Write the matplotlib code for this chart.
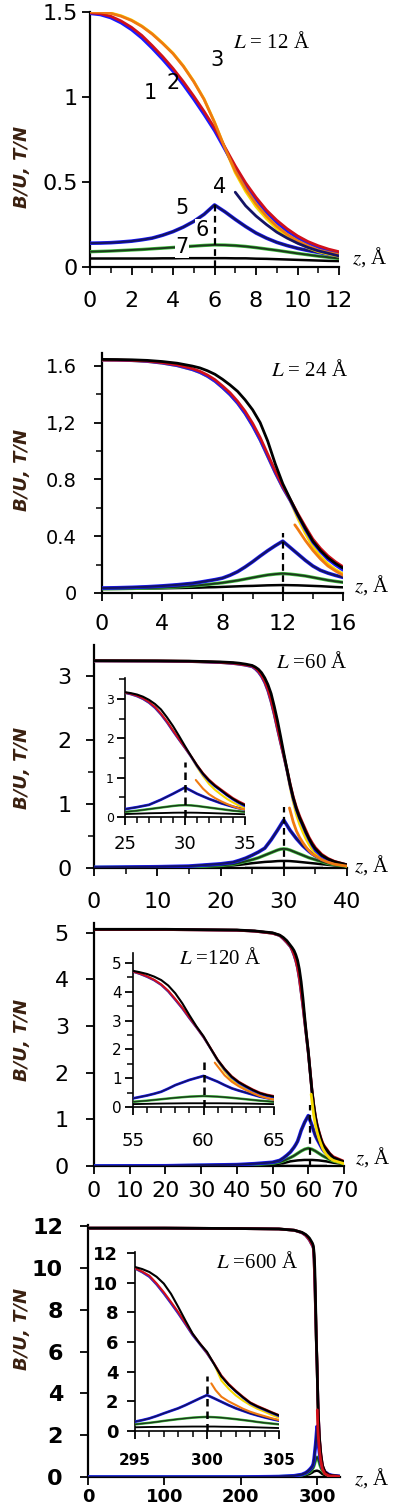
import matplotlib
matplotlib.use('Agg')
import matplotlib.pyplot as plt
import numpy as np
from matplotlib.ticker import MultipleLocator, NullLocator

# ---------------- Panel 1 : L = 12 A ----------------
p1_z  = [0, 0.5, 1, 1.5, 2, 2.5, 3, 3.5, 4, 4.5, 5, 5.5, 6, 6.5, 7, 7.5, 8, 8.5, 9, 9.5, 10, 10.5, 11, 11.5, 12]
p1_c1 = [1.490, 1.483, 1.465, 1.435, 1.395, 1.345, 1.285, 1.220, 1.150, 1.070, 0.985, 0.895, 0.800, 0.690, 0.580,
         0.480, 0.395, 0.320, 0.260, 0.210, 0.170, 0.140, 0.115, 0.095, 0.080]
p1_c2 = [1.495, 1.490, 1.475, 1.447, 1.410, 1.362, 1.302, 1.238, 1.168, 1.090, 1.005, 0.915, 0.818, 0.705, 0.595,
         0.495, 0.410, 0.335, 0.275, 0.225, 0.183, 0.150, 0.125, 0.105, 0.090]
p1_c3 = [1.500, 1.499, 1.492, 1.475, 1.450, 1.415, 1.370, 1.315, 1.255, 1.180, 1.090, 0.985, 0.850, 0.700, 0.565,
         0.460, 0.372, 0.300, 0.240, 0.192, 0.155, 0.125, 0.100, 0.085, 0.072]
p1_cy = [1.500, 1.500, 1.494, 1.478, 1.453, 1.418, 1.373, 1.318, 1.258, 1.183, 1.093, 0.988, 0.853, 0.700, 0.555,
         0.445, 0.355, 0.285, 0.225, 0.178, 0.142, 0.113, 0.090, 0.075, 0.063]
p1_z4 = [7, 7.25, 7.5, 8, 8.5, 9, 9.5, 10, 10.5, 11, 11.5, 12]
p1_c4 = [0.44, 0.40, 0.36, 0.30, 0.25, 0.205, 0.17, 0.14, 0.115, 0.095, 0.08, 0.065]
p1_c5 = [0.140, 0.141, 0.143, 0.147, 0.152, 0.160, 0.170, 0.187, 0.208, 0.235, 0.268, 0.310, 0.365, 0.325, 0.280,
         0.238, 0.200, 0.170, 0.145, 0.126, 0.110, 0.097, 0.086, 0.075, 0.066]
p1_c6 = [0.090, 0.092, 0.094, 0.097, 0.100, 0.103, 0.107, 0.111, 0.115, 0.119, 0.123, 0.127, 0.130, 0.129, 0.126,
         0.121, 0.114, 0.106, 0.098, 0.089, 0.080, 0.072, 0.064, 0.057, 0.050]
p1_c7 = [0.050, 0.050, 0.050, 0.050, 0.050, 0.050, 0.050, 0.051, 0.051, 0.052, 0.052, 0.052, 0.052, 0.052, 0.051,
         0.051, 0.049, 0.048, 0.046, 0.044, 0.042, 0.040, 0.038, 0.036, 0.035]
p1_dash = (6, 0.37)

# ---------------- Panel 2 : L = 24 A ----------------
p2_z  = [0, 1, 2, 3, 4, 5, 6, 6.5, 7, 7.5, 8, 8.5, 9, 9.5, 10, 10.5, 11, 11.5, 12, 12.5, 13, 13.5, 14, 14.5, 15, 15.5, 16]
p2_c1 = [1.640, 1.639, 1.636, 1.630, 1.618, 1.600, 1.572, 1.552, 1.525, 1.490, 1.445, 1.395, 1.335, 1.262, 1.175,
         1.075, 0.960, 0.845, 0.740, 0.648, 0.545, 0.445, 0.355, 0.290, 0.235, 0.195, 0.160]
p2_c2 = [1.641, 1.640, 1.638, 1.633, 1.622, 1.606, 1.580, 1.561, 1.535, 1.502, 1.458, 1.410, 1.350, 1.280, 1.195,
         1.095, 0.978, 0.860, 0.752, 0.658, 0.560, 0.468, 0.380, 0.315, 0.262, 0.220, 0.185]
p2_c3 = [1.645, 1.644, 1.642, 1.638, 1.630, 1.618, 1.598, 1.585, 1.565, 1.540, 1.505, 1.465, 1.420, 1.360, 1.290,
         1.200, 1.070, 0.910, 0.770, 0.660, 0.552, 0.455, 0.365, 0.300, 0.248, 0.208, 0.175]
p2_cy = [1.640, 1.639, 1.636, 1.630, 1.618, 1.600, 1.572, 1.552, 1.525, 1.490, 1.445, 1.395, 1.335, 1.262, 1.175,
         1.075, 0.960, 0.845, 0.740, 0.648, 0.525, 0.420, 0.325, 0.258, 0.205, 0.165, 0.135]
p2_z4 = [12.8, 13, 13.5, 14, 14.5, 15, 15.5, 16]
p2_c4 = [0.48, 0.45, 0.37, 0.30, 0.24, 0.19, 0.155, 0.125]
p2_c5 = [0.035, 0.037, 0.040, 0.044, 0.050, 0.058, 0.068, 0.076, 0.085, 0.094, 0.105, 0.125, 0.150, 0.183, 0.220,
         0.260, 0.298, 0.333, 0.365, 0.320, 0.275, 0.230, 0.190, 0.160, 0.140, 0.124, 0.110]
p2_c6 = [0.030, 0.031, 0.032, 0.035, 0.038, 0.043, 0.050, 0.055, 0.060, 0.066, 0.072, 0.080, 0.088, 0.098, 0.108,
         0.118, 0.127, 0.133, 0.137, 0.133, 0.127, 0.120, 0.110, 0.100, 0.090, 0.082, 0.075]
p2_c7 = [0.028, 0.029, 0.030, 0.031, 0.033, 0.035, 0.037, 0.038, 0.040, 0.041, 0.043, 0.045, 0.047, 0.049, 0.050,
         0.052, 0.054, 0.055, 0.056, 0.055, 0.054, 0.052, 0.050, 0.048, 0.045, 0.042, 0.040]
p2_dash = (12, 0.42)

# ---------------- Panel 3 : L = 60 A ----------------
p3_z  = [0, 10, 15, 20, 22, 23, 24, 25, 25.5, 26, 26.5, 27, 27.5, 28, 28.5, 29, 29.5, 30, 30.5, 31, 31.5, 32,
         32.5, 33, 33.5, 34, 34.5, 35, 36, 37, 38, 40]
p3_c1 = [3.240, 3.237, 3.232, 3.215, 3.200, 3.188, 3.172, 3.150, 3.115, 3.065, 2.995, 2.900, 2.770, 2.600, 2.400,
         2.175, 1.960, 1.750, 1.530, 1.290, 1.080, 0.910, 0.775, 0.660, 0.545, 0.440, 0.350, 0.270, 0.180, 0.120,
         0.085, 0.040]
p3_c2 = [3.243, 3.240, 3.235, 3.219, 3.205, 3.193, 3.178, 3.160, 3.128, 3.080, 3.012, 2.920, 2.795, 2.625, 2.425,
         2.200, 1.980, 1.765, 1.550, 1.320, 1.115, 0.950, 0.815, 0.700, 0.590, 0.480, 0.395, 0.320, 0.215, 0.150,
         0.105, 0.050]
p3_c3 = [3.245, 3.242, 3.238, 3.225, 3.215, 3.205, 3.190, 3.170, 3.145, 3.110, 3.055, 2.975, 2.870, 2.730, 2.530,
         2.310, 2.060, 1.800, 1.550, 1.310, 1.100, 0.930, 0.790, 0.680, 0.560, 0.460, 0.370, 0.300, 0.200, 0.140,
         0.100, 0.050]
p3_cy = [3.240, 3.237, 3.232, 3.215, 3.200, 3.188, 3.172, 3.150, 3.115, 3.065, 2.995, 2.900, 2.770, 2.600, 2.400,
         2.175, 1.960, 1.750, 1.530, 1.270, 1.040, 0.840, 0.690, 0.570, 0.460, 0.370, 0.290, 0.230, 0.150, 0.100,
         0.070, 0.030]
p3_z4 = [30.9, 31.5, 32, 32.5, 33, 33.5, 34, 34.5, 35, 36, 37, 38, 40]
p3_c4 = [0.94, 0.72, 0.58, 0.48, 0.40, 0.33, 0.27, 0.22, 0.19, 0.13, 0.09, 0.06, 0.03]
p3_c5 = [0.010, 0.020, 0.030, 0.065, 0.090, 0.120, 0.155, 0.200, 0.225, 0.250, 0.280, 0.310, 0.375, 0.440, 0.515,
         0.590, 0.670, 0.750, 0.670, 0.590, 0.525, 0.460, 0.405, 0.350, 0.305, 0.260, 0.222, 0.190, 0.140, 0.100,
         0.075, 0.045]
p3_c6 = [0.010, 0.015, 0.020, 0.040, 0.060, 0.080, 0.105, 0.130, 0.145, 0.160, 0.180, 0.200, 0.220, 0.240, 0.260,
         0.280, 0.295, 0.300, 0.295, 0.280, 0.260, 0.240, 0.220, 0.200, 0.180, 0.160, 0.145, 0.130, 0.100, 0.070,
         0.055, 0.030]
p3_c7 = [0.010, 0.012, 0.015, 0.030, 0.040, 0.050, 0.062, 0.075, 0.080, 0.085, 0.090, 0.095, 0.098, 0.100, 0.104,
         0.108, 0.110, 0.110, 0.110, 0.108, 0.104, 0.100, 0.095, 0.090, 0.085, 0.080, 0.075, 0.070, 0.060, 0.050,
         0.040, 0.025]
p3_dash = (30, 0.95)
p3_dash_in = (30, 1.40)

# ---------------- Panel 4 : L = 120 A ----------------
p4_z  = [0, 20, 40, 45, 50, 52, 53, 54, 55, 55.5, 56, 56.5, 57, 57.5, 58, 58.5, 59, 59.5, 60, 60.5, 61, 61.5, 62,
         62.5, 63, 63.5, 64, 64.5, 65, 66, 67, 70]
p4_c1 = [5.07, 5.07, 5.055, 5.035, 4.99, 4.94, 4.87, 4.79, 4.70, 4.62, 4.52, 4.40, 4.24, 4.01, 3.72, 3.42, 3.08,
         2.76, 2.42, 2.03, 1.62, 1.29, 1.02, 0.83, 0.69, 0.56, 0.45, 0.38, 0.33, 0.23, 0.16, 0.07]
p4_c2 = [5.07, 5.07, 5.055, 5.035, 4.99, 4.945, 4.88, 4.80, 4.71, 4.635, 4.54, 4.42, 4.26, 4.04, 3.75, 3.45, 3.11,
         2.78, 2.44, 2.05, 1.65, 1.33, 1.07, 0.88, 0.74, 0.61, 0.50, 0.43, 0.38, 0.27, 0.20, 0.10]
p4_c3 = [5.075, 5.075, 5.06, 5.04, 5.00, 4.95, 4.90, 4.83, 4.73, 4.68, 4.62, 4.53, 4.41, 4.22, 3.95, 3.60, 3.19,
         2.80, 2.46, 2.04, 1.64, 1.32, 1.05, 0.86, 0.72, 0.59, 0.48, 0.41, 0.36, 0.26, 0.18, 0.09]
p4_cy = [5.07, 5.07, 5.055, 5.035, 4.99, 4.94, 4.87, 4.79, 4.70, 4.62, 4.52, 4.40, 4.24, 4.01, 3.72, 3.42, 3.08,
         2.76, 2.42, 2.03, 1.60, 1.24, 0.95, 0.76, 0.62, 0.51, 0.42, 0.35, 0.30, 0.20, 0.14, 0.06]
p4_z4 = [60.8, 61.5, 62, 62.5, 63, 63.5, 64, 64.5, 65, 66, 67, 70]
p4_c4 = [1.54, 1.10, 0.88, 0.72, 0.59, 0.48, 0.38, 0.31, 0.25, 0.17, 0.12, 0.05]
p4_c5 = [0.0, 0.005, 0.03, 0.05, 0.08, 0.12, 0.17, 0.23, 0.30, 0.35, 0.40, 0.46, 0.53, 0.64, 0.76, 0.85, 0.94,
         1.01, 1.08, 0.98, 0.88, 0.76, 0.65, 0.57, 0.50, 0.43, 0.36, 0.31, 0.27, 0.20, 0.15, 0.07]
p4_c6 = [0.0, 0.005, 0.02, 0.035, 0.06, 0.085, 0.11, 0.145, 0.18, 0.20, 0.22, 0.245, 0.27, 0.295, 0.32, 0.34, 0.36,
         0.37, 0.38, 0.37, 0.36, 0.34, 0.32, 0.295, 0.27, 0.245, 0.22, 0.20, 0.18, 0.14, 0.11, 0.05]
p4_c7 = [0.0, 0.005, 0.015, 0.025, 0.04, 0.05, 0.06, 0.08, 0.10, 0.105, 0.11, 0.115, 0.12, 0.123, 0.125, 0.128, 0.13,
         0.13, 0.13, 0.13, 0.13, 0.128, 0.125, 0.123, 0.12, 0.115, 0.11, 0.105, 0.10, 0.085, 0.07, 0.04]
p4_dash = (60.5, 1.30)
p4_dash_in = (60, 1.55)

# ---------------- Panel 5 : L = 600 A ----------------
p5_z  = [0, 100, 200, 250, 270, 280, 285, 288, 290, 292, 294, 295, 295.5, 296, 296.5, 297, 297.5, 298, 298.5, 299,
         299.5, 300, 300.5, 301, 301.5, 302, 302.5, 303, 303.5, 304, 304.5, 305, 307, 310, 315, 320, 330]
p5_c1 = [11.9, 11.9, 11.88, 11.86, 11.8, 11.68, 11.55, 11.42, 11.32, 11.18, 11.05, 10.95, 10.70, 10.39, 9.87, 9.26,
         8.60, 7.92, 7.20, 6.46, 5.85, 5.23, 4.50, 3.70, 3.12, 2.65, 2.24, 1.86, 1.62, 1.41, 1.20, 1.00, 0.50, 0.22,
         0.08, 0.05, 0.03]
p5_c2 = [11.9, 11.9, 11.88, 11.86, 11.8, 11.69, 11.57, 11.44, 11.35, 11.21, 11.08, 10.98, 10.75, 10.47, 9.95, 9.36,
         8.70, 8.02, 7.28, 6.54, 5.92, 5.28, 4.54, 3.74, 3.18, 2.72, 2.31, 1.93, 1.69, 1.48, 1.27, 1.07, 0.56, 0.26,
         0.10, 0.06, 0.03]
p5_c3 = [11.9, 11.9, 11.88, 11.86, 11.8, 11.7, 11.6, 11.5, 11.42, 11.3, 11.17, 11.06, 10.92, 10.72, 10.40, 9.94,
         9.25, 8.37, 7.45, 6.57, 5.90, 5.34, 4.50, 3.68, 3.12, 2.68, 2.27, 1.90, 1.65, 1.45, 1.24, 1.05, 0.55, 0.25,
         0.10, 0.06, 0.03]
p5_cy = [11.9, 11.9, 11.88, 11.86, 11.8, 11.68, 11.55, 11.42, 11.32, 11.18, 11.05, 10.95, 10.70, 10.39, 9.87, 9.26,
         8.60, 7.92, 7.20, 6.46, 5.85, 5.23, 4.50, 3.40, 2.85, 2.40, 2.05, 1.75, 1.50, 1.30, 1.08, 0.90, 0.42, 0.18,
         0.07, 0.04, 0.02]
p5_z4 = [300.3, 300.6, 301, 301.5, 302, 302.5, 303, 303.5, 304, 304.5, 305, 307, 310, 315, 320, 330]
p5_c4 = [3.21, 2.75, 2.31, 2.00, 1.75, 1.50, 1.30, 1.14, 1.00, 0.86, 0.74, 0.38, 0.16, 0.06, 0.035, 0.02]
p5_c5 = [0, 0, 0, 0.02, 0.06, 0.12, 0.20, 0.28, 0.35, 0.43, 0.53, 0.63, 0.73, 0.85, 1.01, 1.19, 1.36, 1.53, 1.74,
         1.97, 2.20, 2.42, 2.20, 1.97, 1.74, 1.53, 1.36, 1.19, 1.05, 0.92, 0.80, 0.70, 0.45, 0.25, 0.12, 0.07, 0.03]
p5_c6 = [0, 0, 0, 0.02, 0.05, 0.10, 0.15, 0.20, 0.23, 0.30, 0.40, 0.45, 0.50, 0.55, 0.61, 0.68, 0.74, 0.80, 0.85,
         0.90, 0.93, 0.95, 0.93, 0.90, 0.85, 0.80, 0.74, 0.68, 0.61, 0.55, 0.50, 0.45, 0.30, 0.18, 0.09, 0.05, 0.02]
p5_c7 = [0, 0, 0, 0.01, 0.03, 0.06, 0.09, 0.12, 0.14, 0.18, 0.22, 0.25, 0.26, 0.27, 0.275, 0.28, 0.285, 0.29, 0.295,
         0.30, 0.30, 0.30, 0.30, 0.29, 0.285, 0.28, 0.27, 0.26, 0.245, 0.23, 0.215, 0.20, 0.14, 0.09, 0.05, 0.03, 0.01]
p5_dash_in = (300, 3.70)

titles = ['$L$ = 12 Å', '$L$ = 24 Å', '$L$ =60 Å', '$L$ =120 Å', '$L$ =600 Å']
curve_numbers = ['1', '2', '3', '4', '5', '6', '7']

# ---------------- figure ----------------
W, H = 396, 1509
fig = plt.figure(figsize=(W / 100, H / 100), dpi=100)
fig.patch.set_facecolor('white')

BLUE = '#1a1aff'
RED = '#d0101a'
ORANGE = '#f07a10'
YELLOW = '#f5d800'
NAVY = '#141464'
DGREEN = '#1c3a1c'


def box(x0, x1, ytop, ybot):
    return [x0 / W, 1 - ybot / H, (x1 - x0) / W, (ybot - ytop) / H]


def style(ax, xmaj, xmin, ymaj, ymin, xfs, yfs, xpad, ypad, lw=1.6, weight='normal'):
    for s in ['top', 'right']:
        ax.spines[s].set_visible(False)
    for s in ['left', 'bottom']:
        ax.spines[s].set_linewidth(lw)
    ax.xaxis.set_major_locator(MultipleLocator(xmaj))
    ax.xaxis.set_minor_locator(MultipleLocator(xmin) if xmin else NullLocator())
    ax.yaxis.set_major_locator(MultipleLocator(ymaj))
    ax.yaxis.set_minor_locator(MultipleLocator(ymin) if ymin else NullLocator())
    ax.tick_params(axis='x', which='major', direction='out', length=6, width=1.3, labelsize=xfs, pad=xpad)
    ax.tick_params(axis='y', which='major', direction='out', length=6, width=1.3, labelsize=yfs, pad=ypad)
    ax.tick_params(which='minor', direction='out', length=4, width=1.1)
    for lab in ax.get_xticklabels() + ax.get_yticklabels():
        lab.set_fontweight(weight)
    ax.set_facecolor('none')


def line(ax, x, y, col, lw, z):
    ax.plot(x, y, color=col, lw=lw, zorder=z, solid_joinstyle='round', solid_capstyle='round')


def draw(ax, z, c1, c2, c3, cy, z4, c4, c5, c6, c7, c3col, c4col, lw=2.0):
    line(ax, z, c7, 'black', lw * 0.9, 3)
    line(ax, z, c6, '#3fbf3f', lw * 1.2, 3)
    line(ax, z, c6, DGREEN, lw * 0.7, 3)
    line(ax, z, c5, BLUE, lw * 1.3, 4)
    line(ax, z, c5, NAVY, lw * 0.8, 4)
    line(ax, z, cy, YELLOW, lw, 5)
    line(ax, z, c1, BLUE, lw, 6)
    line(ax, z, c2, RED, lw, 7)
    line(ax, z, c3, c3col, lw, 8)
    line(ax, z4, c4, c4col, lw, 8)


def dashed(ax, d, lw=1.6):
    ax.plot([d[0], d[0]], [0, d[1]], color='black', ls=(0, (3, 2)), lw=lw, zorder=9)


def ylab(ycen):
    fig.text(22 / W, 1 - ycen / H, 'B/U, T/N', rotation=90, ha='center', va='center',
             fontsize=13, color='#3a2010', style='italic', fontweight='bold')


def zlab(x, y):
    fig.text(x / W, 1 - y / H, r'$z$, Å', ha='center', va='center', fontsize=15,
             family='Liberation Serif', math_fontfamily='stix')


def ltext(x, y, s):
    fig.text(x / W, 1 - y / H, s, ha='center', va='center', fontsize=15,
             family='Liberation Serif', math_fontfamily='stix')


# Panel 1
ax1 = fig.add_axes(box(90, 339, 12, 267))
draw(ax1, p1_z, p1_c1, p1_c2, p1_c3, p1_cy, p1_z4, p1_c4, p1_c5, p1_c6, p1_c7, ORANGE, NAVY)
dashed(ax1, p1_dash)
ax1.set_xlim(0, 12)
ax1.set_ylim(0, 1.5)
style(ax1, 2, 1, 0.5, None, 16, 16, 11, 3)
ax1.set_yticks([0, 0.5, 1, 1.5])
ax1.set_yticklabels(['0', '0.5', '1', '1.5'])
for s, (px, py) in zip(curve_numbers,
                       [(150, 93), (173, 83), (217, 60), (220, 187), (182, 208), (202, 230), (182, 247)]):
    t = fig.text(px / W, 1 - py / H, s, ha='center', va='center', fontsize=15, zorder=20)
    if s in ('6', '7'):
        t.set_bbox(dict(facecolor='white', edgecolor='none', pad=0.5))
ltext(271, 42, titles[0])
ylab(167)
zlab(370, 257)

# Panel 2
ax2 = fig.add_axes(box(102, 343, 353, 593))
draw(ax2, p2_z, p2_c1, p2_c2, p2_c3, p2_cy, p2_z4, p2_c4, p2_c5, p2_c6, p2_c7, 'black', ORANGE)
dashed(ax2, p2_dash)
ax2.set_xlim(0, 16)
ax2.set_ylim(0, 1.69)
style(ax2, 4, 2, 0.4, 0.2, 16, 14, 9, 12)
ax2.set_yticks([0, 0.4, 0.8, 1.2, 1.6])
ax2.set_yticklabels(['0', '0.4', '0.8', '1,2', '1.6'])
ltext(309, 370, titles[1])
ylab(470)
zlab(372, 585)

# Panel 3
ax3 = fig.add_axes(box(94, 347, 645, 868))
draw(ax3, p3_z, p3_c1, p3_c2, p3_c3, p3_cy, p3_z4, p3_c4, p3_c5, p3_c6, p3_c7, 'black', ORANGE)
dashed(ax3, p3_dash)
ax3.plot([24, 36], [0.015, 0.015], color='#bbbbbb', lw=1.5, zorder=2)
ax3.set_xlim(0, 40)
ax3.set_ylim(0, 3.49)
style(ax3, 10, 5, 1, 0.5, 16, 16, 11, 10)
ltext(312, 662, titles[2])
ylab(768)
zlab(372, 865)

ax3i = fig.add_axes(box(125, 245, 678, 817))
draw(ax3i, p3_z, p3_c1, p3_c2, p3_c3, p3_cy, p3_z4, p3_c4, p3_c5, p3_c6, p3_c7, 'black', ORANGE, lw=1.5)
dashed(ax3i, p3_dash_in, lw=1.8)
ax3i.set_xlim(25, 35)
ax3i.set_ylim(0, 3.53)
style(ax3i, 5, 1, 1, 0.5, 13, 9, 7, 2, lw=1.2)

# Panel 4
ax4 = fig.add_axes(box(94, 344, 923, 1166))
draw(ax4, p4_z, p4_c1, p4_c2, p4_c3, p4_cy, p4_z4, p4_c4, p4_c5, p4_c6, p4_c7, 'black', YELLOW)
dashed(ax4, p4_dash)
ax4.plot([53, 65], [0.015, 0.015], color='#bbbbbb', lw=1.5, zorder=2)
ax4.set_xlim(0, 70)
ax4.set_ylim(0, 5.21)
style(ax4, 10, None, 1, None, 16, 16, 5, 12)
ltext(220, 958, titles[3])
ylab(1040)
zlab(373, 1157)

ax4i = fig.add_axes(box(133, 274, 953, 1107))
draw(ax4i, p4_z, p4_c1, p4_c2, p4_c3, p4_cy, p4_z4, p4_c4, p4_c5, p4_c6, p4_c7, 'black', ORANGE, lw=1.5)
dashed(ax4i, p4_dash_in, lw=1.8)
ax4i.set_xlim(55, 65)
ax4i.set_ylim(0, 5.35)
style(ax4i, 5, 1, 1, 0.5, 13, 11, 12, 2, lw=1.2)

# Panel 5
ax5 = fig.add_axes(box(88, 340, 1225, 1477))
draw(ax5, p5_z, p5_c1, p5_c2, p5_c3, p5_cy, p5_z4, p5_c4, p5_c5, p5_c6, p5_c7, 'black', RED)
ax5.set_xlim(0, 330)
ax5.set_ylim(0, 12.05)
style(ax5, 100, None, 2, None, 13, 16, 2, 12, weight='bold')
ltext(257, 1262, titles[4])
ylab(1329)
zlab(372, 1478)

ax5i = fig.add_axes(box(135, 279, 1252, 1431))
draw(ax5i, p5_z, p5_c1, p5_c2, p5_c3, p5_cy, p5_z4, p5_c4, p5_c5, p5_c6, p5_c7, 'black', ORANGE, lw=1.5)
dashed(ax5i, p5_dash_in, lw=1.8)
ax5i.set_xlim(295, 305)
ax5i.set_ylim(0, 12.07)
style(ax5i, 5, 1, 2, None, 11, 13, 10, 6, lw=1.2, weight='bold')

fig.savefig('out.png', dpi=100, facecolor='white')
